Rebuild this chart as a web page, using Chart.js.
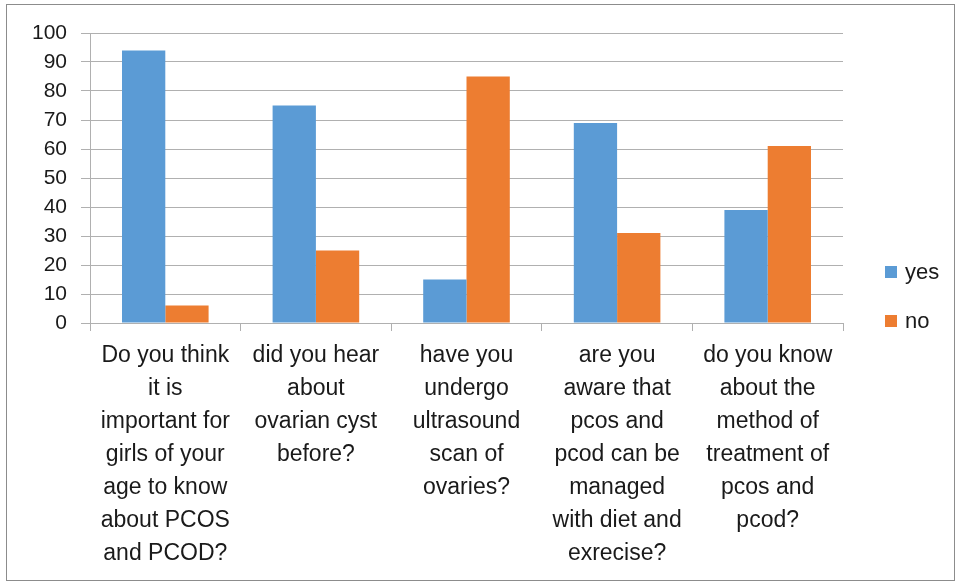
<!DOCTYPE html>
<html>
<head>
<meta charset="utf-8">
<script src="https://cdn.jsdelivr.net/npm/chart.js@4"></script>
<style>
  html,body{margin:0;padding:0;background:#fff;}
  #wrap{position:absolute;left:6px;top:4px;width:947px;height:575px;border:1px solid #8c8c8c;background:#fff;}
  canvas{display:block;}
</style>
</head>
<body>
<div id="wrap"><canvas id="c" width="947" height="575"></canvas></div>
<script>
// ======= Data =======
const categories = [
  ['Do you think','it is','important for','girls of your','age to know','about PCOS','and PCOD?'],
  ['did you hear','about','ovarian cyst','before?'],
  ['have you','undergo','ultrasound','scan of','ovaries?'],
  ['are you','aware that','pcos and','pcod can be','managed','with diet and','exrecise?'],
  ['do you know','about the','method of','treatment of','pcos and','pcod?']
];
const yesValues = [94, 75, 15, 69, 39];
const noValues = [6, 25, 85, 31, 61];
const yTicks = [0,10,20,30,40,50,60,70,80,90,100];

const FONT = '"Liberation Sans", Arial, sans-serif';
const TXT = '#1a1a1a';
const GRID = '#b0b0b0';

// ======= Legend (drawn beside the plot, like Excel) =======
const sideLegend = {
  id:'sideLegend',
  afterDraw(chart){
    const {ctx,chartArea} = chart;
    const x = chartArea.right + 42;
    const rows = [267, 316];
    ctx.save();
    ctx.font = '22px ' + FONT;
    ctx.textBaseline = 'middle';
    chart.data.datasets.forEach((ds,i)=>{
      const y = rows[i];
      ctx.fillStyle = ds.backgroundColor;
      ctx.fillRect(x, y-6, 12, 12);
      ctx.fillStyle = TXT;
      ctx.fillText(ds.label, x+20, y+1);
    });
    ctx.restore();
  }
};

new Chart(document.getElementById('c'),{
  type:'bar',
  data:{
    labels:categories,
    datasets:[
      {label:'yes',data:yesValues,backgroundColor:'#5B9BD5'},
      {label:'no',data:noValues,backgroundColor:'#ED7D31'}
    ]
  },
  options:{
    responsive:false,
    animation:false,
    datasets:{bar:{barPercentage:1,categoryPercentage:0.575}},
    layout:{padding:{left:20,top:28,right:111,bottom:0}},
    plugins:{legend:{display:false},tooltip:{enabled:false}},
    scales:{
      x:{
        grid:{display:true,drawOnChartArea:false,drawTicks:true,tickLength:8,color:GRID,offset:true},
        border:{display:true,color:GRID},
        ticks:{color:TXT,font:{family:FONT,size:23,lineHeight:1.435},padding:8,maxRotation:0,autoSkip:false},
        afterFit(s){s.height = 257;}
      },
      y:{
        min:0,max:100,
        afterBuildTicks(s){s.ticks = yTicks.map(v=>({value:v}));},
        grid:{color:GRID,tickLength:9},
        border:{display:true,color:GRID},
        ticks:{color:TXT,font:{family:FONT,size:21},padding:14},
        afterFit(s){s.width = 63;}
      }
    }
  },
  plugins:[sideLegend]
});
</script>
</body>
</html>
